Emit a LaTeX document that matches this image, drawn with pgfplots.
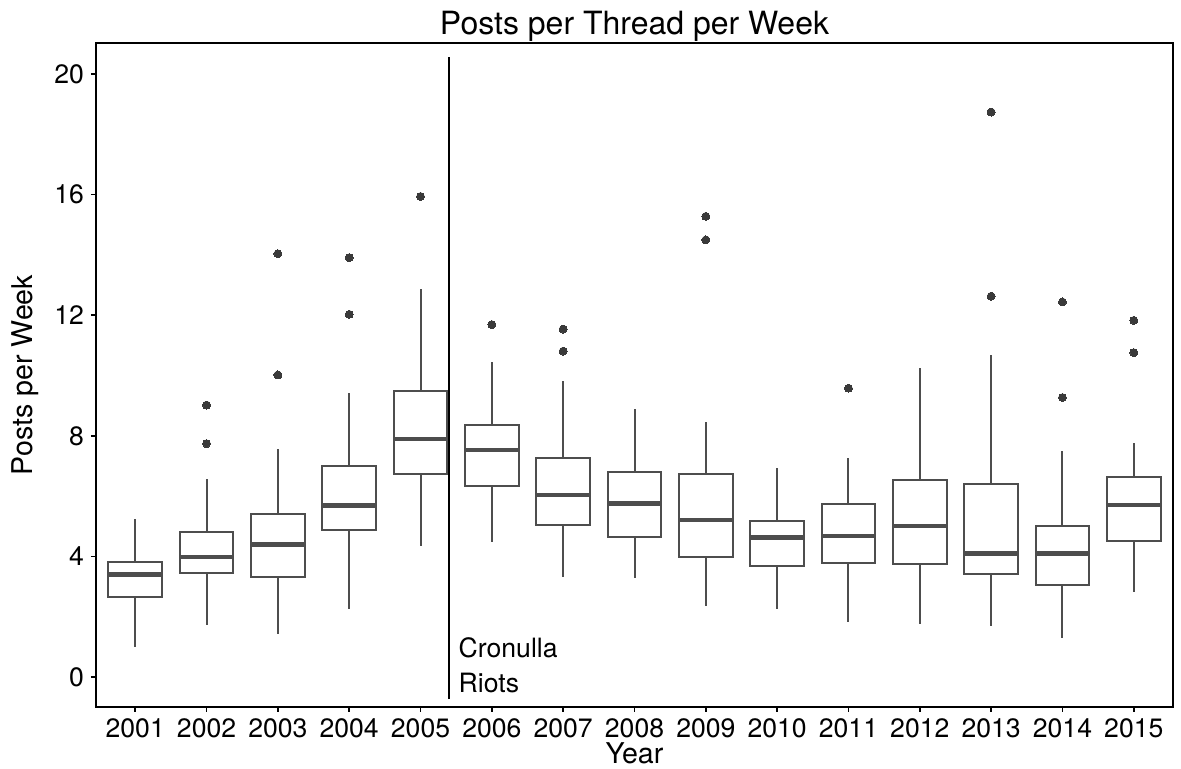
\documentclass[border=0pt]{standalone}
\usepackage{fontspec}
\setmainfont{TeX Gyre Heros}
\usepackage{pgfplots}
\pgfplotsset{compat=1.18}
\usepgfplotslibrary{statistics}

\definecolor{boxgray}{HTML}{4D4D4D}
\definecolor{ptgray}{HTML}{3A3A3A}

\pgfplotsset{
  yearbox/.style={
    draw=boxgray, line width=1pt,
    mark=*, mark size=2pt, mark options={draw=ptgray, fill=ptgray, line width=0pt},
    boxplot/draw direction=y,
    boxplot/box extend=0.75,
    boxplot/whisker extend=0,
    boxplot/every median/.style={line width=2.2pt},
  },
}

\begin{document}
\begin{tikzpicture}
\useasboundingbox (-48pt,-31pt) rectangle (542.5pt,353.5pt);
\begin{axis}[
  scale only axis,
  width=538.5pt, height=332pt,
  xmin=0.45, xmax=15.55,
  ymin=-0.995, ymax=21.03,
  xtick={1,2,3,4,5,6,7,8,9,10,11,12,13,14,15},
  xticklabels={2001,2002,2003,2004,2005,2006,2007,2008,2009,2010,2011,2012,2013,2014,2015},
  ytick={0,4,8,12,16,20},
  tick align=outside, tick pos=left,
  major tick length=2.5pt,
  tick style={black, line width=0.8pt},
  axis line style={black, line width=1pt},
  /pgf/number format/assume math mode=true,
  ticklabel style={font=\fontsize{13.3}{15}\selectfont},
  title={Posts per Thread per Week},
  title style={font=\fontsize{16}{18}\selectfont, at={(axis description cs:0.5,1)}, anchor=base, yshift=-2pt},
  xlabel={Year},
  xlabel style={font=\fontsize{14.3}{16}\selectfont, at={(axis description cs:0.5,0)}, anchor=base, yshift=-28.5pt},
  ylabel={Posts per Week},
  ylabel style={font=\fontsize{14.3}{16}\selectfont, at={(axis description cs:-0.0659,0.5)}, anchor=center},
  clip=false,
]
% 2001
\addplot[yearbox, boxplot prepared={draw position=1, lower whisker=0.98, lower quartile=2.67, median=3.40, upper quartile=3.83, upper whisker=5.24}] coordinates {};
% 2002
\addplot[yearbox, boxplot prepared={draw position=2, lower whisker=1.72, lower quartile=3.44, median=3.99, upper quartile=4.82, upper whisker=6.56}] coordinates {(0,7.74) (0,9.02)};
% 2003
\addplot[yearbox, boxplot prepared={draw position=3, lower whisker=1.42, lower quartile=3.32, median=4.40, upper quartile=5.41, upper whisker=7.55}] coordinates {(0,10.02) (0,14.04)};
% 2004
\addplot[yearbox, boxplot prepared={draw position=4, lower whisker=2.24, lower quartile=4.86, median=5.69, upper quartile=6.99, upper whisker=9.41}] coordinates {(0,12.03) (0,13.91)};
% 2005
\addplot[yearbox, boxplot prepared={draw position=5, lower whisker=4.35, lower quartile=6.72, median=7.89, upper quartile=9.47, upper whisker=12.86}] coordinates {(0,15.94)};
% 2006
\addplot[yearbox, boxplot prepared={draw position=6, lower whisker=4.48, lower quartile=6.32, median=7.52, upper quartile=8.36, upper whisker=10.45}] coordinates {(0,11.69)};
% 2007
\addplot[yearbox, boxplot prepared={draw position=7, lower whisker=3.33, lower quartile=5.04, median=6.04, upper quartile=7.27, upper whisker=9.81}] coordinates {(0,10.81) (0,11.54)};
% 2008
\addplot[yearbox, boxplot prepared={draw position=8, lower whisker=3.28, lower quartile=4.64, median=5.75, upper quartile=6.81, upper whisker=8.89}] coordinates {};
% 2009
\addplot[yearbox, boxplot prepared={draw position=9, lower whisker=2.37, lower quartile=3.99, median=5.20, upper quartile=6.72, upper whisker=8.45}] coordinates {(0,14.50) (0,15.28)};
% 2010
\addplot[yearbox, boxplot prepared={draw position=10, lower whisker=2.25, lower quartile=3.67, median=4.63, upper quartile=5.19, upper whisker=6.94}] coordinates {};
% 2011
\addplot[yearbox, boxplot prepared={draw position=11, lower whisker=1.81, lower quartile=3.77, median=4.68, upper quartile=5.74, upper whisker=7.27}] coordinates {(0,9.58)};
% 2012
\addplot[yearbox, boxplot prepared={draw position=12, lower whisker=1.77, lower quartile=3.74, median=5.01, upper quartile=6.55, upper whisker=10.26}] coordinates {};
% 2013
\addplot[yearbox, boxplot prepared={draw position=13, lower whisker=1.70, lower quartile=3.41, median=4.10, upper quartile=6.40, upper whisker=10.68}] coordinates {(0,12.63) (0,18.74)};
% 2014
\addplot[yearbox, boxplot prepared={draw position=14, lower whisker=1.31, lower quartile=3.04, median=4.10, upper quartile=5.02, upper whisker=7.50}] coordinates {(0,9.27) (0,12.44)};
% 2015
\addplot[yearbox, boxplot prepared={draw position=15, lower whisker=2.82, lower quartile=4.51, median=5.70, upper quartile=6.63, upper whisker=7.77}] coordinates {(0,10.76) (0,11.83)};

% event line
\addplot[black, line width=1pt, mark=none] coordinates {(5.4,-0.73) (5.4,20.56)};
\node[anchor=base west, inner sep=0pt, font=\fontsize{13.3}{15}\selectfont] at (axis cs:5.53,0.66) {Cronulla};
\node[anchor=base west, inner sep=0pt, font=\fontsize{13.3}{15}\selectfont] at (axis cs:5.53,-0.50) {Riots};
\end{axis}
\end{tikzpicture}
\end{document}
